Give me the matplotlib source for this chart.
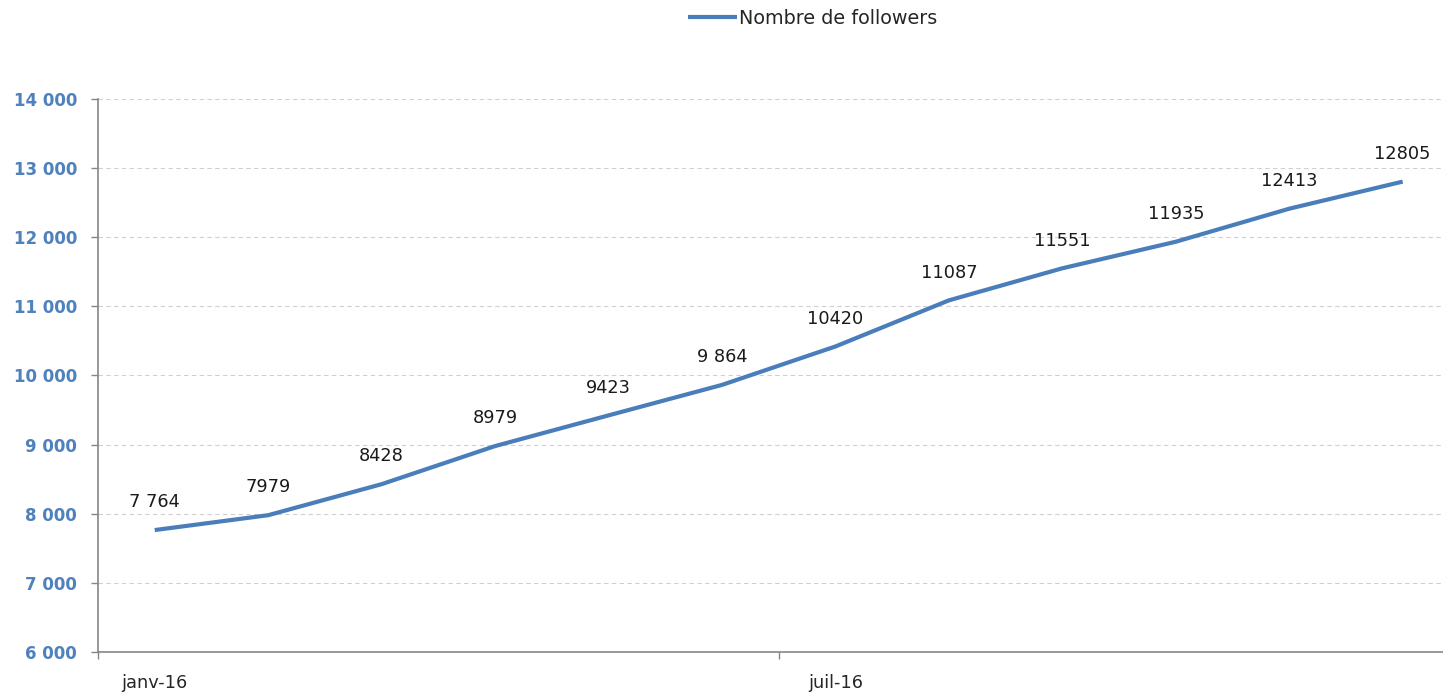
import matplotlib
matplotlib.use('Agg')
import matplotlib.pyplot as plt
from matplotlib.ticker import FuncFormatter

# Data
months = ['janv-16', 'févr-16', 'mars-16', 'avr-16', 'mai-16', 'juin-16',
          'juil-16', 'août-16', 'sept-16', 'oct-16', 'nov-16', 'déc-16']
followers = [7764, 7979, 8428, 8979, 9423, 9864,
             10420, 11087, 11551, 11935, 12413, 12805]
point_labels = ['7 764', '7979', '8428', '8979', '9423', '9 864',
                '10420', '11087', '11551', '11935', '12413', '12805']
series_name = 'Nombre de followers'

W, H = 1443, 694
fig = plt.figure(figsize=(W / 100, H / 100), dpi=100)
# plot area in pixels: left 98, top 99, bottom 652, category width ~113.45
ax = fig.add_axes([98 / W, 42 / H, 12 * 113.45 / W, 553 / H])

x = list(range(len(months)))
line, = ax.plot(x, followers, color='#4A7EBB', linewidth=3,
                solid_capstyle='butt', label=series_name, zorder=3)

for xi, yi, lab in zip(x, followers, point_labels):
    ax.annotate(lab, (xi, yi), xytext=(0, 20), textcoords='offset points',
                ha='center', va='center', fontsize=12.8, color='#1a1a1a')

ax.set_xlim(-0.5, len(months) - 0.5)
ax.set_ylim(6000, 14000)
ax.set_yticks(range(6000, 14001, 1000))
ax.yaxis.set_major_formatter(FuncFormatter(lambda v, p: f"{int(v):,}".replace(',', ' ')))
ax.tick_params(axis='y', length=5, width=1, color='#868686', pad=10,
               labelsize=12, labelcolor='#4F81BD')
for t in ax.get_yticklabels():
    t.set_fontweight('bold')

# x: tick marks at category boundaries every 6, labels centred on the category
ax.set_xticks([-0.5, 5.5])
ax.set_xticklabels([])
ax.tick_params(axis='x', which='major', length=5, width=1, color='#868686', direction='out')
ax.set_xticks(x[::6], minor=True)
ax.set_xticklabels(months[::6], minor=True)
ax.tick_params(axis='x', which='minor', length=0, pad=16, labelsize=12.8,
               labelcolor='#262626')

ax.yaxis.grid(True, linestyle=(0, (4, 3)), color='#d0d0d0', linewidth=0.8)
ax.set_axisbelow(True)
for side in ['top', 'right']:
    ax.spines[side].set_visible(False)
for side in ['left', 'bottom']:
    ax.spines[side].set_color('#868686')
    ax.spines[side].set_linewidth(1.2)

fig.legend(handles=[line], loc='center left', bbox_to_anchor=(688 / W, 1 - 18 / H),
           frameon=False, borderpad=0, borderaxespad=0, fontsize=13.8,
           handlelength=2.55, handletextpad=0.1, labelcolor='#262626')

fig.savefig('out.png', dpi=100)
